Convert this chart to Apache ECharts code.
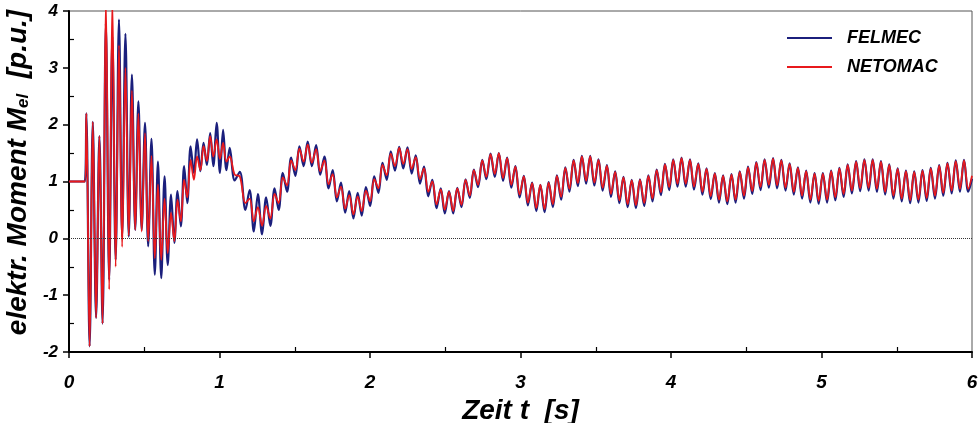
<!DOCTYPE html>
<html>
<head>
<meta charset="utf-8">
<script src="https://cdn.jsdelivr.net/npm/echarts@6/dist/echarts.min.js"></script>
<style>
  html, body { margin: 0; padding: 0; background: #fff; }
  #chart { width: 978px; height: 423px; }
</style>
</head>
<body>
<div id="chart"></div>
<script>
// Electrical torque after a terminal short circuit: FELMEC vs. NETOMAC simulation.
// Samples are the turning points of the curves, time in seconds, torque in p.u.
const time = [
  0, 0.105,
  0.115, 0.137, 0.158, 0.180, 0.202, 0.223, 0.245, 0.267, 0.288, 0.310, 0.332, 0.353,
  0.375, 0.397, 0.418, 0.440, 0.461, 0.483, 0.505, 0.526, 0.548, 0.570, 0.591, 0.613,
  0.635, 0.656, 0.678, 0.700, 0.721, 0.743, 0.765, 0.786, 0.808, 0.830, 0.851, 0.873,
  0.894, 0.916, 0.938, 0.959, 0.981, 1.003, 1.024, 1.046, 1.068, 1.101, 1.135, 1.172,
  1.200, 1.228, 1.255, 1.283, 1.310, 1.338, 1.366, 1.393, 1.421, 1.449, 1.476, 1.504, 1.531, 1.559,
  1.586, 1.614, 1.642, 1.669, 1.697, 1.725, 1.752, 1.780, 1.807, 1.835, 1.862, 1.890,
  1.918, 1.945, 1.973, 2.001, 2.028, 2.056, 2.083, 2.111, 2.138, 2.166, 2.194,
  2.221, 2.249, 2.277, 2.304, 2.332, 2.359, 2.387, 2.414, 2.442, 2.470, 2.497,
  2.525, 2.553, 2.580, 2.608, 2.635, 2.663, 2.690, 2.718, 2.746, 2.773, 2.801, 2.829,
  2.856, 2.884, 2.911, 2.939, 2.966, 2.994, 3.022, 3.049, 3.077, 3.105,
  3.132, 3.160, 3.187, 3.215, 3.242, 3.270, 3.298, 3.325, 3.353, 3.381, 3.408,
  3.436, 3.463, 3.491, 3.518, 3.546, 3.574, 3.601, 3.629, 3.657, 3.684, 3.712, 3.739,
  3.767, 3.794, 3.822, 3.850, 3.877, 3.905, 3.933, 3.960, 3.988, 4.015, 4.043,
  4.070, 4.098, 4.126, 4.153, 4.181, 4.209, 4.236, 4.264, 4.291, 4.319, 4.346,
  4.374, 4.402, 4.429, 4.457, 4.485, 4.512, 4.540, 4.567, 4.595, 4.622, 4.650,
  4.678, 4.705, 4.733, 4.761, 4.788, 4.816, 4.843, 4.871, 4.898, 4.926, 4.954,
  4.981, 5.009, 5.037, 5.064, 5.092, 5.119, 5.147, 5.174, 5.202, 5.230, 5.257, 5.285,
  5.313, 5.340, 5.368, 5.395, 5.423, 5.450, 5.478, 5.506, 5.533, 5.561, 5.589,
  5.616, 5.644, 5.671, 5.699, 5.726, 5.754, 5.782, 5.809, 5.837, 5.865, 5.892, 5.920, 5.947, 5.975, 6.000
];

const felmec = [
  1, 1,
  2.2, -1.9, 2.05, -1.4, 1.8, -1.5, 3.78, -0.73, 3.55, -0.38, 3.85, 0.02,
  3.6, 0.03, 2.88, 0.15, 2.41, 0.15, 2.03, -0.14, 1.75, -0.64, 1.35, -0.70,
  1.09, -0.47, 0.77, -0.08, 0.83, 0.21, 1.27, 0.62, 1.62, 1.15, 1.74, 1.18,
  1.68, 1.29, 1.85, 1.27, 2.03, 1.15, 1.91, 1.20, 1.59, 1.02, 1.17, 0.50,
  0.85, 0.12, 0.78, 0.07, 0.72, 0.22, 0.88, 0.50, 1.15, 0.82, 1.42, 1.10, 1.62, 1.27,
  1.70, 1.27, 1.64, 1.12, 1.44, 0.88, 1.20, 0.65, 0.98, 0.45, 0.83, 0.35,
  0.80, 0.40, 0.90, 0.57, 1.09, 0.80, 1.33, 1.03, 1.53, 1.19, 1.61,
  1.23, 1.60, 1.14, 1.46, 0.96, 1.26, 0.74, 1.03, 0.53, 0.88, 0.44,
  0.83, 0.44, 0.89, 0.55, 1.04, 0.71, 1.21, 0.90, 1.38, 1.04, 1.49, 1.08,
  1.50, 1.01, 1.42, 0.89, 1.27, 0.72, 1.10, 0.58, 0.98, 0.48,
  0.94, 0.46, 0.99, 0.55, 1.11, 0.68, 1.25, 0.82, 1.38, 0.92, 1.45,
  0.96, 1.45, 0.93, 1.39, 0.84, 1.29, 0.73, 1.18, 0.62, 1.08, 0.55, 1.03,
  0.53, 1.04, 0.57, 1.11, 0.65, 1.21, 0.76, 1.31, 0.85, 1.39, 0.91,
  1.42, 0.91, 1.39, 0.86, 1.32, 0.77, 1.23, 0.69, 1.15, 0.63, 1.11,
  0.60, 1.13, 0.63, 1.18, 0.70, 1.26, 0.78, 1.34, 0.85, 1.39, 0.89,
  1.41, 0.88, 1.38, 0.84, 1.32, 0.77, 1.25, 0.70, 1.19, 0.63, 1.15,
  0.61, 1.15, 0.63, 1.19, 0.67, 1.24, 0.73, 1.30, 0.79, 1.36, 0.83, 1.39,
  0.84, 1.39, 0.82, 1.36, 0.77, 1.30, 0.70, 1.23, 0.65, 1.19, 0.62,
  1.18, 0.63, 1.20, 0.66, 1.24, 0.70, 1.29, 0.75, 1.33, 0.79, 1.37, 0.82, 1.38, 0.82, 1.05
];

const netomac = [
  1, 1,
  2.2, -1.9, 2.05, -1.4, 1.8, -1.5, 4.2, -0.9, 4.2, -0.5, 3.4, -0.15,
  3.0, 0.05, 2.6, 0.15, 2.2, 0.12, 1.85, -0.05, 1.45, -0.35, 0.95, -0.38,
  0.70, -0.26, 0.45, -0.05, 0.68, 0.30, 1.03, 0.72, 1.38, 1.03, 1.44, 1.20,
  1.62, 1.36, 1.80, 1.44, 1.74, 1.40, 1.68, 1.35, 1.44, 1.12, 1.09, 0.62,
  0.70, 0.30, 0.55, 0.22, 0.57, 0.35, 0.78, 0.62, 1.07, 0.93, 1.37, 1.20, 1.58, 1.35,
  1.65, 1.33, 1.57, 1.18, 1.37, 0.95, 1.13, 0.72, 0.91, 0.52, 0.76, 0.42,
  0.74, 0.48, 0.84, 0.65, 1.04, 0.88, 1.29, 1.11, 1.49, 1.27, 1.59,
  1.31, 1.57, 1.22, 1.43, 1.04, 1.23, 0.82, 1.00, 0.60, 0.86, 0.50,
  0.82, 0.48, 0.88, 0.59, 1.03, 0.75, 1.20, 0.94, 1.37, 1.08, 1.48, 1.13,
  1.50, 1.06, 1.41, 0.94, 1.26, 0.77, 1.09, 0.63, 0.97, 0.53,
  0.94, 0.51, 0.98, 0.60, 1.10, 0.73, 1.24, 0.87, 1.37, 0.97, 1.44,
  1.01, 1.44, 0.98, 1.38, 0.89, 1.28, 0.78, 1.17, 0.67, 1.07, 0.60, 1.02,
  0.58, 1.03, 0.62, 1.10, 0.70, 1.20, 0.81, 1.30, 0.90, 1.38, 0.96,
  1.41, 0.96, 1.38, 0.91, 1.31, 0.82, 1.22, 0.74, 1.14, 0.68, 1.10,
  0.65, 1.12, 0.68, 1.17, 0.75, 1.25, 0.83, 1.33, 0.90, 1.38, 0.94,
  1.40, 0.93, 1.37, 0.89, 1.31, 0.82, 1.24, 0.75, 1.18, 0.68, 1.14,
  0.66, 1.14, 0.68, 1.18, 0.72, 1.23, 0.78, 1.29, 0.84, 1.35, 0.88, 1.38,
  0.89, 1.38, 0.87, 1.35, 0.82, 1.29, 0.75, 1.22, 0.70, 1.18, 0.67,
  1.17, 0.68, 1.19, 0.71, 1.23, 0.75, 1.28, 0.80, 1.32, 0.84, 1.36, 0.87, 1.37, 0.87, 1.10
];

const seriesNames = ['FELMEC', 'NETOMAC'];
const xTickValues = [0, 1, 2, 3, 4, 5, 6];
const yTickValues = [-2, -1, 0, 1, 2, 3, 4];

const pairs = (vals) => time.map((t, i) => [t, vals[i]]);

const FONT = '"Liberation Sans", Arial, Helvetica, sans-serif';
const boldItalic = { fontFamily: FONT, fontWeight: 'bold', fontStyle: 'italic', color: '#000' };

const xMin = xTickValues[0], xMax = xTickValues[xTickValues.length - 1];
const yMin = yTickValues[0], yMax = yTickValues[yTickValues.length - 1];

// main axes carry the labels and the outward major ticks;
// the overlay axes only contribute the inward half-step ticks
const mainTick = { length: 6, lineStyle: { color: '#000', width: 1.5 } };
const halfTickAxis = {
  axisLine: { show: false, onZero: false },
  axisLabel: { show: false },
  axisTick: { show: false, inside: true },
  minorTick: { show: true, splitNumber: 2, length: 5, lineStyle: { color: '#000', width: 1.2 } },
  splitLine: { show: false }
};

const chart = echarts.init(document.getElementById('chart'), null, { renderer: 'canvas' });

chart.setOption({
  animation: false,
  backgroundColor: '#fff',
  grid: {
    left: 69, right: 6, top: 11, bottom: 71,
    outerBoundsMode: 'none',
    containLabel: false,
    show: true, borderColor: '#555', borderWidth: 1, backgroundColor: 'transparent'
  },
  legend: {
    data: seriesNames,
    orient: 'vertical',
    left: 787, top: 29,
    padding: 0,
    icon: 'rect',
    itemWidth: 45, itemHeight: 2, itemGap: 11,
    textStyle: Object.assign({ fontSize: 18, padding: [0, 0, 0, 10] }, boldItalic)
  },
  xAxis: [
    {
      type: 'value', min: xMin, max: xMax, interval: 1,
      name: 'Zeit t  [s]',
      nameLocation: 'middle', nameGap: 45,
      nameTextStyle: Object.assign({ fontSize: 28 }, boldItalic),
      axisLine: { onZero: false, lineStyle: { color: '#000', width: 2 } },
      axisTick: mainTick,
      axisLabel: Object.assign({ fontSize: 19, margin: 21 }, boldItalic),
      splitLine: { show: false }
    },
    Object.assign({ type: 'value', min: xMin, max: xMax, interval: 1, position: 'bottom' }, halfTickAxis)
  ],
  yAxis: [
    {
      type: 'value', min: yMin, max: yMax, interval: 1,
      name: 'elektr. Moment M{sub|el}  [p.u.]',
      nameLocation: 'middle', nameGap: 31, nameRotate: 90,
      nameTextStyle: Object.assign({
        fontSize: 28,
        padding: [0, 0, 0, 18],
        rich: {
          sub: Object.assign({ fontSize: 17, verticalAlign: 'bottom' }, boldItalic)
        }
      }, boldItalic),
      axisLine: { onZero: false, lineStyle: { color: '#000', width: 2 } },
      axisTick: mainTick,
      axisLabel: Object.assign({ fontSize: 17, margin: 11 }, boldItalic),
      splitLine: { show: false }
    },
    Object.assign({ type: 'value', min: yMin, max: yMax, interval: 1, position: 'left' }, halfTickAxis)
  ],
  series: [
    {
      name: seriesNames[0],
      type: 'line',
      data: pairs(felmec),
      showSymbol: false, symbol: 'none',
      smooth: 0.35,
      clip: true,
      z: 2,
      lineStyle: { color: '#1b1f7c', width: 2.2 },
      itemStyle: { color: '#1b1f7c' },
      markLine: {
        silent: true, symbol: 'none', label: { show: false },
        lineStyle: { color: '#333', width: 1, type: 'dotted' },
        data: [{ yAxis: 0 }]
      }
    },
    {
      name: seriesNames[1],
      type: 'line',
      data: pairs(netomac),
      showSymbol: false, symbol: 'none',
      smooth: 0.35,
      clip: true,
      z: 3,
      lineStyle: { color: '#e8191c', width: 1.8 },
      itemStyle: { color: '#e8191c' }
    }
  ]
});
</script>
</body>
</html>
